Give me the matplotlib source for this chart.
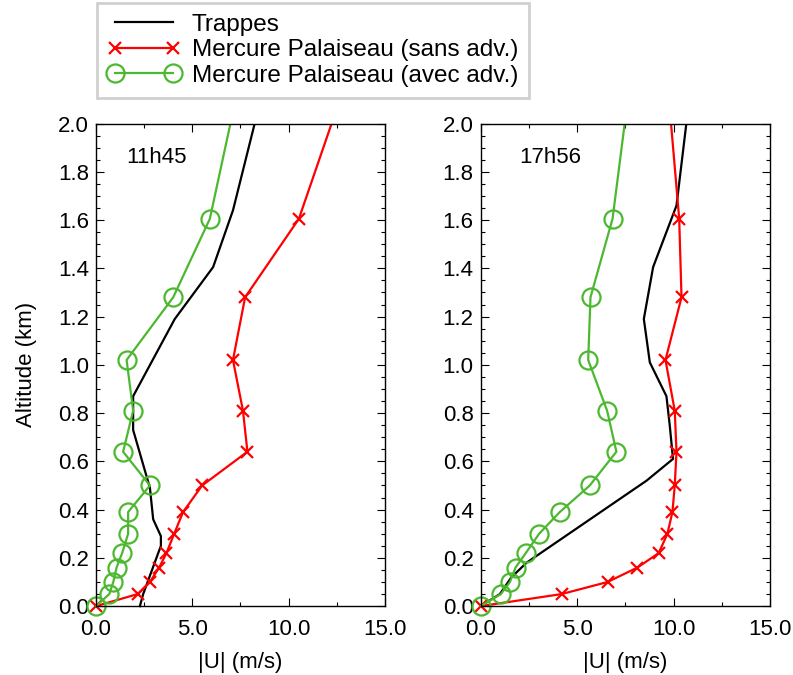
import numpy as np
import matplotlib
matplotlib.use("Agg")
import matplotlib.pyplot as plt
from matplotlib.ticker import MultipleLocator, FormatStrFormatter
from matplotlib.transforms import Bbox, TransformedBbox

plt.rcParams["font.family"] = ["Liberation Sans", "DejaVu Sans"]
plt.rcParams["font.size"] = 16

# ---------------------------------------------------------------- data
# model levels (km) shared by both Mercure runs
z_model = [0.0, 0.05, 0.10, 0.16, 0.22, 0.30, 0.39, 0.50, 0.64, 0.81, 1.02, 1.28, 1.605, 2.10]

# 11h45
u_sans_1145 = [0.0, 2.16, 2.80, 3.28, 3.66, 4.06, 4.52, 5.51, 7.86, 7.63, 7.11, 7.74, 10.53, 12.66]
u_avec_1145 = [0.0, 0.69, 0.90, 1.07, 1.36, 1.67, 1.67, 2.80, 1.41, 1.93, 1.59, 4.01, 5.91, 7.25]
z_trap_1145 = [0.0, 0.05, 0.25, 0.29, 0.36, 0.49, 0.73, 0.87, 1.19, 1.405, 1.64, 2.10]
u_trap_1145 = [2.28, 2.45, 3.37, 3.37, 2.97, 2.80, 1.93, 1.93, 4.09, 6.08, 7.11, 8.55]

# 17h56
u_sans_1756 = [0.0, 4.19, 6.57, 8.12, 9.22, 9.67, 9.93, 10.05, 10.14, 10.05, 9.57, 10.40, 10.28, 9.75]
u_avec_1756 = [0.0, 1.05, 1.52, 1.81, 2.34, 3.03, 4.10, 5.65, 7.03, 6.55, 5.57, 5.69, 6.83, 7.62]
z_trap_1756 = [0.0, 0.05, 0.12, 0.18, 0.52, 0.61, 0.75, 0.87, 1.01, 1.19, 1.405, 1.66, 2.10]
u_trap_1756 = [0.0, 1.0, 1.60, 2.38, 8.59, 9.96, 9.79, 9.62, 8.76, 8.45, 8.93, 10.14, 10.80]

panels = [
    ("11h45", u_trap_1145, z_trap_1145, u_sans_1145, u_avec_1145),
    ("17h56", u_trap_1756, z_trap_1756, u_sans_1756, u_avec_1756),
]

RED = "#ff0000"
GREEN = "#4cb82f"

fig = plt.figure(figsize=(7.93, 6.75), dpi=100)
ax_pos = [[0.121, 0.102, 0.3645, 0.715], [0.606, 0.102, 0.3655, 0.715]]
title_x = [0.105, 0.135]

handles = None
for i, (pos, (title, ut, zt, us, ua)) in enumerate(zip(ax_pos, panels)):
    ax = fig.add_axes(pos)
    h1, = ax.plot(ut, zt, color="black", lw=1.6, label="Trappes")
    h2, = ax.plot(us, z_model, color=RED, lw=1.6, marker="x", ms=9, mew=1.6,
                  label="Mercure Palaiseau (sans adv.)")
    h3, = ax.plot(ua, z_model, color=GREEN, lw=1.6, marker="o", ms=13, mew=1.6,
                  mfc="none", label="Mercure Palaiseau (avec adv.)")
    # clip only at the top, so the markers at the surface overhang the frame
    clip = TransformedBbox(Bbox([[-0.2, -0.2], [1.0, 1.0]]), ax.transAxes)
    for h in (h1, h2, h3):
        h.set_clip_box(clip)
    ax.set_xlim(0, 15)
    ax.set_ylim(0, 2.0)
    ax.xaxis.set_major_locator(MultipleLocator(5))
    ax.xaxis.set_minor_locator(MultipleLocator(2.5))
    ax.yaxis.set_major_locator(MultipleLocator(0.2))
    ax.yaxis.set_minor_locator(MultipleLocator(0.05))
    ax.xaxis.set_major_formatter(FormatStrFormatter("%.1f"))
    ax.yaxis.set_major_formatter(FormatStrFormatter("%.1f"))
    ax.tick_params(which="both", direction="in", top=True, right=True, width=0.8)
    ax.tick_params(which="major", length=5.5, labelsize=16)
    ax.tick_params(axis="x", which="major", pad=9)
    ax.tick_params(axis="y", which="major", pad=5)
    ax.tick_params(which="minor", length=3)
    for s in ax.spines.values():
        s.set_linewidth(1.0)
    ax.set_xlabel("|U| (m/s)", fontsize=16, labelpad=9)
    ax.text(title_x[i], 0.93, title, transform=ax.transAxes,
            fontsize=16, ha="left", va="center")
    if i == 0:
        ax.set_ylabel("Altitude (km)", fontsize=16, labelpad=15)
    handles = [h1, h2, h3]

leg = fig.legend(handles=handles, loc="upper left", bbox_to_anchor=(0.122, 0.996),
                 numpoints=2, handlelength=3.0, handletextpad=0.45, borderpad=0.45,
                 borderaxespad=0, labelspacing=0.15, fontsize=17.5, fancybox=False,
                 framealpha=1)
leg.get_frame().set_edgecolor("#d0d0d0")
leg.get_frame().set_linewidth(2)

fig.savefig("out.png", dpi=100)
